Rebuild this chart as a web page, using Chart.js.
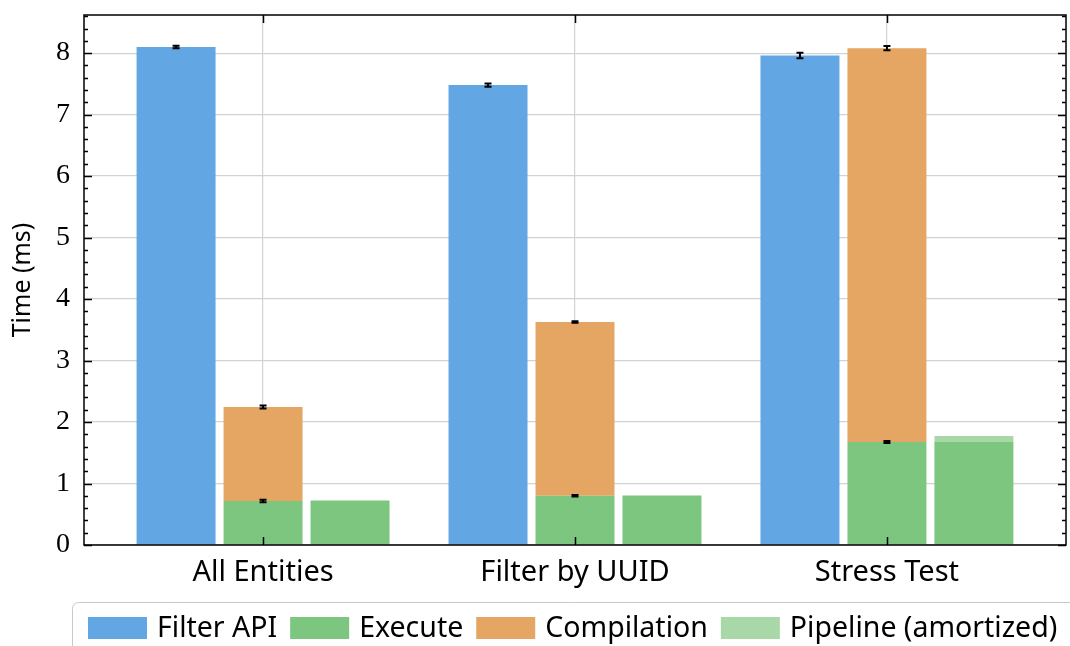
<!DOCTYPE html>
<html>
<head>
<meta charset="utf-8">
<script src="https://cdn.jsdelivr.net/npm/chart.js@4.4.1/dist/chart.umd.min.js"></script>
<style>
    html, body { margin: 0; padding: 0; background: #fff; }
    #wrap { width: 1070px; height: 646px; }
</style>
</head>
<body>
<div id="wrap"><canvas id="benchChart" width="1070" height="646"></canvas></div>
<script>
// values (ms)
const categories = ['All Entities', 'Filter by UUID', 'Stress Test'];
const filterApi = [8.10, 7.48, 7.96];
const filterApiErr = [0.02, 0.025, 0.045];
const execute = [0.715, 0.80, 1.675];
const executeErr = [0.02, 0.012, 0.018];
const compilation = [1.53, 2.826, 6.405];
const compilationErr = [0.025, 0.012, 0.035];
const pipeline = [0.012, 0.01, 0.097];
const yMax = 8.62;

const colors = {
    api: '#62a6e3',
    execute: '#7cc67f',
    compilation: '#e5a663',
    pipeline: '#a8d8a8'
};

const toPoints = arr => arr.map((v, i) => ({x: i, y: v}));

// error bars at the top of each (stacked) bar
const errorBars = {
    id: 'errorBars',
    afterDatasetsDraw(chart) {
        const ctx = chart.ctx;
        const y = chart.scales.y;
        ctx.save();
        ctx.strokeStyle = '#000';
        ctx.lineWidth = 2;
        chart.data.datasets.forEach((ds, i) => {
            if (!ds.errors) return;
            chart.getDatasetMeta(i).data.forEach((bar, j) => {
                const top = y.getValueForPixel(bar.y);
                const y1 = y.getPixelForValue(top - ds.errors[j]);
                const y2 = y.getPixelForValue(top + ds.errors[j]);
                ctx.beginPath();
                ctx.moveTo(bar.x, y1); ctx.lineTo(bar.x, y2);
                ctx.moveTo(bar.x - 3.5, y1); ctx.lineTo(bar.x + 3.5, y1);
                ctx.moveTo(bar.x - 3.5, y2); ctx.lineTo(bar.x + 3.5, y2);
                ctx.stroke();
            });
        });
        ctx.restore();
    }
};

// box frame with inward ticks
const frame = {
    id: 'frame',
    afterDatasetsDraw(chart) {
        const {ctx, chartArea: a, scales} = chart;
        ctx.save();
        ctx.strokeStyle = '#000';
        ctx.lineWidth = 1.5;
        ctx.strokeRect(a.left, a.top, a.right - a.left, a.bottom - a.top);
        ctx.beginPath();
        for (let k = 0; k * 0.2 <= yMax; k++) {
            const py = Math.round(scales.y.getPixelForValue(k * 0.2)) + 0.5;
            const len = k % 5 === 0 ? 8 : 4;
            ctx.moveTo(a.left, py); ctx.lineTo(a.left + len, py);
            ctx.moveTo(a.right, py); ctx.lineTo(a.right - len, py);
        }
        categories.forEach((c, i) => {
            const px = Math.round(scales.x.getPixelForValue(i)) + 0.5;
            ctx.moveTo(px, a.bottom); ctx.lineTo(px, a.bottom - 8);
            ctx.moveTo(px, a.top); ctx.lineTo(px, a.top + 8);
        });
        ctx.stroke();
        ctx.restore();
    }
};

// boxed legend along the bottom
const bottomLegend = {
    id: 'bottomLegend',
    afterDraw(chart) {
        const ctx = chart.ctx;
        ctx.save();
        ctx.strokeStyle = '#c8c8c8';
        ctx.lineWidth = 1;
        ctx.beginPath();
        ctx.roundRect(72.5, 602.5, 1100, 100, 6);
        ctx.stroke();
        ctx.font = '28.5px "Noto Sans"';
        ctx.textBaseline = 'middle';
        let x = 88;
        chart.data.datasets.forEach(ds => {
            if (ds.noLegend) return;
            ctx.fillStyle = ds.backgroundColor;
            ctx.fillRect(x, 617, 59, 22);
            x += 59 + 10;
            ctx.fillStyle = '#000';
            ctx.fillText(ds.label, x, 629);
            x += ctx.measureText(ds.label).width + 13;
        });
        ctx.restore();
    }
};

const noPad = scale => {
    scale.paddingTop = 0;
    scale.paddingBottom = 0;
    scale.paddingLeft = 0;
    scale.paddingRight = 0;
};

const ctx = document.getElementById('benchChart').getContext('2d');
new Chart(ctx, {
    type: 'bar',
    data: {
        datasets: [
            {label: 'Filter API', data: toPoints(filterApi), errors: filterApiErr,
                backgroundColor: colors.api, stack: 'api'},
            {label: 'Execute', data: toPoints(execute), errors: executeErr,
                backgroundColor: colors.execute, stack: 'jit'},
            {label: 'Compilation', data: toPoints(compilation), errors: compilationErr,
                backgroundColor: colors.compilation, stack: 'jit'},
            {label: 'Execute', data: toPoints(execute), noLegend: true,
                backgroundColor: colors.execute, stack: 'pipe'},
            {label: 'Pipeline (amortized)', data: toPoints(pipeline),
                backgroundColor: colors.pipeline, stack: 'pipe'}
        ]
    },
    options: {
        responsive: false,
        animation: false,
        devicePixelRatio: 1,
        layout: {padding: {top: 15, right: 4, left: 0, bottom: 51}},
        datasets: {
            bar: {categoryPercentage: 0.8365, barPercentage: 0.908, borderWidth: 0}
        },
        scales: {
            x: {
                type: 'linear',
                min: -0.574,
                max: 2.574,
                offset: false,
                stacked: true,
                afterBuildTicks: scale => { scale.ticks = categories.map((c, i) => ({value: i})); },
                afterFit: scale => { scale.height = 50; noPad(scale); },
                border: {display: false},
                grid: {color: '#d2d2d2', lineWidth: 1.2, drawTicks: false, offset: false},
                ticks: {
                    padding: 10,
                    color: '#000',
                    maxRotation: 0,
                    font: {family: '"Noto Sans"', size: 29},
                    callback: value => categories[value]
                }
            },
            y: {
                min: 0,
                max: yMax,
                stacked: true,
                afterFit: scale => { scale.width = 84; noPad(scale); },
                border: {display: false},
                grid: {color: '#d2d2d2', lineWidth: 1.2, drawTicks: false},
                ticks: {
                    stepSize: 1,
                    includeBounds: false,
                    padding: 14,
                    color: '#000',
                    font: {family: '"Liberation Serif"', size: 28}
                },
                title: {
                    display: true,
                    text: 'Time (ms)',
                    color: '#000',
                    padding: {top: 8, bottom: 0},
                    font: {family: '"Noto Sans"', size: 25}
                }
            }
        },
        plugins: {
            legend: {display: false},
            tooltip: {enabled: false}
        }
    },
    plugins: [errorBars, frame, bottomLegend]
});
</script>
</body>
</html>
